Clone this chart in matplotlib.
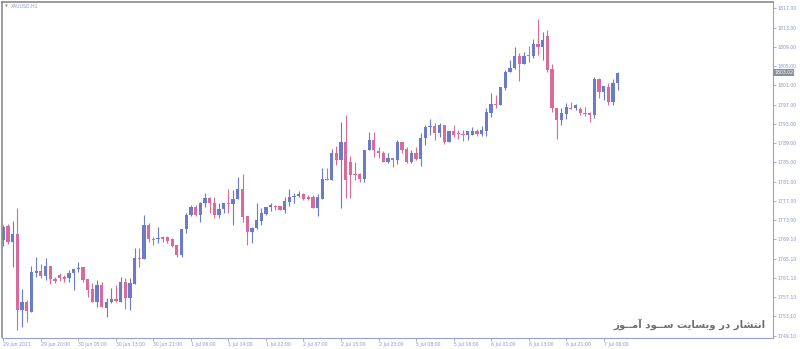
import numpy as np
from matplotlib import pyplot as plt

# XAUUSD H1 candles, 29 Jun - 7 Jul 2021
opens = [
    1768.87, 1771.72, 1768.52, 1770.06, 1754.34, 1756.06, 1753.98, 1762.08, 1762.44, 1761.46,
    1763.54, 1760.84, 1761.67, 1761.13, 1760.92, 1761.96, 1762.85, 1763.21, 1760.77, 1758.76,
    1756.06, 1759.53, 1754.69, 1755.94, 1756.68, 1756.06, 1760.21, 1756.77, 1759.73, 1765.14,
    1764.87, 1771.99, 1769.08, 1769.02, 1769.44, 1769.56, 1769.02, 1767.83, 1765.76, 1771.10,
    1774.07, 1775.79, 1774.07, 1776.49, 1777.54, 1776.49, 1774.07, 1775.25, 1776.62, 1776.35,
    1777.33, 1779.40, 1773.86, 1770.47, 1771.30, 1772.88, 1774.27, 1775.66, 1775.93, 1775.93,
    1775.10, 1776.83, 1777.74, 1778.01, 1778.43, 1777.74, 1777.74, 1775.46, 1777.45, 1781.61,
    1781.34, 1786.88, 1785.49, 1789.29, 1785.14, 1782.58, 1782.58, 1781.48, 1787.57, 1789.64,
    1787.42, 1787.01, 1785.14, 1785.84, 1785.49, 1789.23, 1787.71, 1785.14, 1786.88, 1785.70,
    1790.12, 1792.28, 1792.55, 1791.04, 1792.76, 1789.29, 1791.51, 1791.04, 1790.83, 1790.62,
    1790.68, 1791.51, 1790.89, 1791.58, 1795.31, 1797.12, 1796.91, 1800.38, 1803.83, 1804.53,
    1807.09, 1805.43, 1807.30, 1807.09, 1809.58, 1809.02, 1811.24, 1804.33, 1796.35, 1793.80,
    1795.04, 1796.35, 1796.35, 1796.02, 1795.19, 1795.31, 1794.84, 1802.25, 1799.68, 1800.59,
    1797.60, 1801.54]
highs = [
    1771.99, 1772.13, 1772.82, 1775.58, 1758.70, 1756.35, 1763.54, 1765.41, 1763.83, 1765.07,
    1763.54, 1761.25, 1761.96, 1761.61, 1762.64, 1762.92, 1764.37, 1763.21, 1760.77, 1759.88,
    1760.56, 1760.21, 1756.77, 1758.84, 1759.53, 1761.25, 1760.92, 1760.92, 1767.15, 1767.15,
    1774.07, 1772.47, 1769.56, 1771.64, 1769.70, 1769.70, 1769.23, 1767.83, 1771.10, 1774.42,
    1776.14, 1776.14, 1776.83, 1778.70, 1777.87, 1777.87, 1776.56, 1776.62, 1779.40, 1779.26,
    1782.02, 1782.58, 1773.86, 1771.64, 1776.49, 1775.46, 1775.79, 1776.62, 1776.14, 1775.93,
    1777.87, 1779.40, 1778.57, 1779.11, 1778.70, 1778.22, 1778.22, 1778.43, 1783.77, 1783.77,
    1787.71, 1788.40, 1793.44, 1794.83, 1786.32, 1785.14, 1782.85, 1787.57, 1791.37, 1791.37,
    1788.25, 1787.42, 1786.88, 1785.84, 1789.64, 1789.23, 1788.25, 1787.57, 1788.25, 1791.04,
    1792.76, 1794.00, 1793.11, 1793.11, 1792.76, 1791.51, 1792.76, 1791.72, 1791.72, 1791.51,
    1792.28, 1791.87, 1792.55, 1796.23, 1799.47, 1798.99, 1800.59, 1804.18, 1806.26, 1808.90,
    1807.65, 1807.98, 1809.17, 1810.56, 1814.77, 1812.14, 1812.49, 1805.43, 1796.35, 1796.23,
    1797.27, 1797.60, 1797.12, 1796.44, 1796.56, 1795.52, 1802.67, 1802.46, 1800.86, 1801.42,
    1802.25, 1803.83]
lows = [
    1767.69, 1767.98, 1763.33, 1750.18, 1750.87, 1751.91, 1753.98, 1761.25, 1761.04, 1760.56,
    1759.67, 1759.88, 1760.42, 1760.21, 1760.21, 1758.49, 1762.29, 1760.21, 1756.97, 1756.06,
    1755.02, 1755.02, 1752.82, 1755.73, 1756.06, 1756.06, 1754.48, 1754.34, 1759.73, 1763.33,
    1764.87, 1768.52, 1767.83, 1768.19, 1768.52, 1768.31, 1767.48, 1765.41, 1765.28, 1770.27,
    1773.86, 1773.86, 1772.67, 1775.79, 1774.42, 1773.38, 1773.44, 1774.42, 1774.54, 1771.99,
    1777.33, 1772.67, 1767.83, 1768.19, 1771.10, 1771.99, 1774.07, 1774.96, 1775.10, 1775.10,
    1774.42, 1775.93, 1776.62, 1777.74, 1777.18, 1777.18, 1775.46, 1773.86, 1777.45, 1781.34,
    1781.34, 1784.45, 1775.46, 1777.54, 1777.54, 1781.34, 1780.98, 1780.98, 1787.57, 1786.05,
    1785.84, 1785.14, 1784.80, 1784.10, 1784.66, 1786.88, 1784.80, 1784.80, 1785.49, 1784.31,
    1788.61, 1790.68, 1789.64, 1790.33, 1788.81, 1789.29, 1790.33, 1789.85, 1789.50, 1789.64,
    1790.68, 1790.47, 1790.47, 1790.47, 1794.36, 1796.23, 1796.91, 1800.03, 1803.83, 1804.33,
    1801.96, 1805.43, 1805.91, 1806.61, 1807.30, 1806.26, 1803.83, 1795.52, 1789.79, 1792.76,
    1793.94, 1796.02, 1795.88, 1794.84, 1794.63, 1793.44, 1794.15, 1798.30, 1797.95, 1796.91,
    1796.91, 1800.03]
closes = [
    1771.64, 1768.52, 1770.06, 1754.27, 1756.06, 1754.13, 1762.17, 1762.44, 1761.46, 1763.54,
    1760.77, 1760.42, 1760.98, 1760.84, 1761.96, 1762.92, 1763.12, 1760.56, 1758.49, 1756.06,
    1759.53, 1755.02, 1756.06, 1756.62, 1756.27, 1760.21, 1756.77, 1759.88, 1765.14, 1764.87,
    1771.99, 1769.02, 1768.81, 1769.35, 1769.02, 1768.73, 1767.63, 1765.76, 1771.10, 1774.07,
    1775.79, 1774.07, 1776.49, 1777.54, 1776.49, 1774.07, 1775.31, 1776.62, 1776.35, 1777.39,
    1779.40, 1773.71, 1770.60, 1771.30, 1773.03, 1774.54, 1775.66, 1776.14, 1775.66, 1775.10,
    1776.97, 1777.74, 1778.07, 1778.43, 1777.39, 1777.39, 1775.46, 1777.74, 1781.61, 1781.34,
    1786.88, 1785.49, 1789.29, 1781.34, 1782.37, 1782.37, 1781.48, 1787.57, 1789.64, 1787.57,
    1787.01, 1785.14, 1785.84, 1785.49, 1789.29, 1787.57, 1785.14, 1787.01, 1785.70, 1790.12,
    1792.41, 1792.55, 1791.04, 1792.76, 1789.17, 1791.51, 1790.68, 1790.83, 1790.62, 1791.51,
    1791.51, 1790.89, 1791.72, 1795.52, 1797.12, 1796.91, 1800.59, 1803.83, 1804.53, 1807.09,
    1805.43, 1807.09, 1807.09, 1809.58, 1809.02, 1810.41, 1804.18, 1796.23, 1793.80, 1795.19,
    1796.56, 1796.14, 1796.85, 1795.19, 1795.04, 1794.84, 1802.25, 1799.68, 1800.86, 1797.60,
    1801.54, 1803.62]

# price scale (labels as printed by the terminal)
ytick_values = [1817, 1813, 1809, 1805, 1801, 1797, 1793, 1789, 1785,
                1781, 1777, 1773, 1769, 1765, 1761, 1757, 1753, 1749]
ytick_labels = ["1817.00", "1813.00", "1809.00", "1805.00", "1801.00", "1797.00",
                "1793.00", "1789.00", "1785.00", "1781.00", "1777.00", "1773.00",
                "1769.10", "1765.10", "1761.10", "1757.10", "1753.10", "1749.10"]
last_price_label = "1803.02"

# time scale: one label every 8 bars
xtick_bars = [0, 8, 16, 24, 32, 40, 48, 56, 64, 72, 80, 88, 96, 104, 112, 120, 128]
xtick_labels = ["29 Jun 2021", "29 Jun 20:00", "30 Jun 05:00", "30 Jun 13:00",
                "30 Jun 21:00", "1 Jul 06:00", "1 Jul 14:00", "1 Jul 22:00",
                "2 Jul 07:00", "2 Jul 15:00", "2 Jul 23:00", "5 Jul 08:00",
                "5 Jul 16:00", "6 Jul 01:00", "6 Jul 13:00", "6 Jul 21:00",
                "7 Jul 06:00"]

symbol = "XAUUSD,H1"
watermark = "انتشار در وبسایت ســود آمــوز"

BULL = "#6a7bc8"
BEAR = "#d96a9c"
AXIS = "#9aa1c4"
LABEL = "#8c96c8"


# minimal arabic/persian shaping (matplotlib has no text shaping)
FORMS = {
    "ا": ("\uFE8D", "\uFE8E", None, None),
    "آ": ("\uFE81", "\uFE82", None, None),
    "د": ("\uFEA9", "\uFEAA", None, None),
    "ر": ("\uFEAD", "\uFEAE", None, None),
    "ز": ("\uFEAF", "\uFEB0", None, None),
    "و": ("\uFEED", "\uFEEE", None, None),
    "ب": ("\uFE8F", "\uFE90", "\uFE91", "\uFE92"),
    "ت": ("\uFE95", "\uFE96", "\uFE97", "\uFE98"),
    "س": ("\uFEB1", "\uFEB2", "\uFEB3", "\uFEB4"),
    "ش": ("\uFEB5", "\uFEB6", "\uFEB7", "\uFEB8"),
    "م": ("\uFEE1", "\uFEE2", "\uFEE3", "\uFEE4"),
    "ن": ("\uFEE5", "\uFEE6", "\uFEE7", "\uFEE8"),
    "ی": ("\uFBFC", "\uFBFD", "\uFBFE", "\uFBFF"),
    "ـ": ("ـ", "ـ", "ـ", "ـ"),
}


def shape_rtl(text):
    out = []
    for i, ch in enumerate(text):
        if ch not in FORMS:
            out.append(ch)
            continue
        prev = text[i - 1] if i > 0 else ""
        nxt = text[i + 1] if i + 1 < len(text) else ""
        join_prev = prev in FORMS and FORMS[prev][2] is not None
        join_next = FORMS[ch][2] is not None and nxt in FORMS
        if join_prev and join_next:
            out.append(FORMS[ch][3])
        elif join_prev:
            out.append(FORMS[ch][1])
        elif join_next:
            out.append(FORMS[ch][2])
        else:
            out.append(FORMS[ch][0])
    return "".join(out)[::-1]


o = np.array(opens)
h = np.array(highs)
l = np.array(lows)
c = np.array(closes)
x = np.arange(len(o))
colors = np.where(c >= o, BULL, BEAR)

fig = plt.figure(figsize=(8, 3.49), dpi=100)
ax = fig.add_axes([2 / 800, 11.5 / 349, 771 / 800, 335.5 / 349])

ax.vlines(x, l, h, colors=colors, linewidth=0.8)
body = np.maximum(np.abs(c - o), 0.25)
ax.bar(x, body, bottom=np.minimum(o, c), width=0.7, color=colors, linewidth=0)

ax.set_xlim(-0.28, 164.1)
ax.set_ylim(1748.62, 1818.31)

ax.yaxis.tick_right()
ax.set_yticks(ytick_values, ytick_labels)
ax.set_xticks(xtick_bars, xtick_labels)
for lbl in ax.get_xticklabels():
    lbl.set_ha("left")
ax.tick_params(axis="both", length=2, width=0.6, color=AXIS, labelsize=3.3,
               labelcolor=LABEL, pad=1.5)
ax.tick_params(axis="x", pad=1.0)

for side in ["right", "bottom"]:
    ax.spines[side].set_color(AXIS)
    ax.spines[side].set_linewidth(0.8)
for side in ["left", "top"]:
    ax.spines[side].set_color("#8a8a8a")
    ax.spines[side].set_linewidth(1.2)

# current price box on the scale
ax.text(1.0015, closes[-1], last_price_label, transform=ax.get_yaxis_transform(),
        ha="left", va="center", fontsize=3.3, color="white",
        bbox=dict(boxstyle="square,pad=0.25", facecolor="#8b8e9c", edgecolor="none"))

ax.text(0.004, 0.988, "\u25bc", transform=ax.transAxes, ha="left", va="center",
        fontsize=2.6, color="#9a9a9a")
ax.text(0.012, 0.988, symbol, transform=ax.transAxes, ha="left", va="center",
        fontsize=3.3, color=LABEL)

ax.text(0.99, 0.04, shape_rtl(watermark), transform=ax.transAxes, ha="right",
        va="center", fontsize=7.3, fontweight="bold", color="#6f6f6f")

plt.savefig("out.png", dpi=100, facecolor="white")
plt.close()
